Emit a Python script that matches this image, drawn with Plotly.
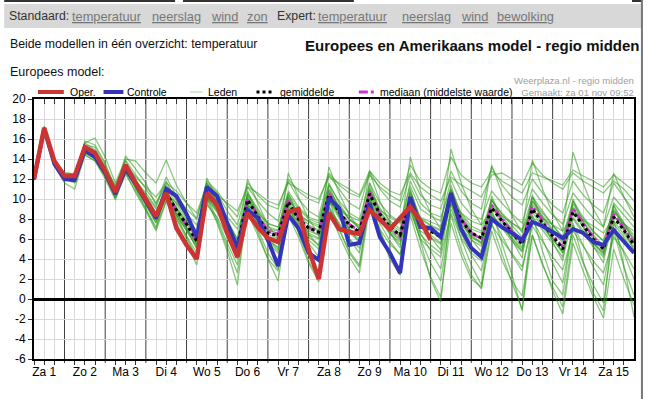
import pandas as pd
import plotly.graph_objects as go

# 6-hourly forecast steps starting Saturday 1 Nov 06:00
times = pd.date_range("2014-11-01 06:00", periods=60, freq="6h")

day_labels = ["Za 1", "Zo 2", "Ma 3", "Di 4", "Wo 5", "Do 6", "Vr 7", "Za 8",
              "Zo 9", "Ma 10", "Di 11", "Wo 12", "Do 13", "Vr 14", "Za 15"]
y_ticks = [-6, -4, -2, 0, 2, 4, 6, 8, 10, 12, 14, 16, 18, 20]

oper = [12.0, 17.1, 13.8, 12.3, 12.3, 15.2, 14.6, 12.8, 10.7, 13.4,
        11.6, 10.0, 8.3, 10.6, 7.1, 5.4, 4.0, 10.6, 9.4, 6.6,
        4.2, 8.6, 7.2, 6.1, 5.7, 8.7, 9.0, 5.0, 2.0, 8.6,
        7.0, 6.7, 6.5, 8.9, 7.9, 7.0, 8.1, 9.2, 7.8, 5.9]

controle = [12.0, 17.0, 13.5, 12.0, 11.9, 14.9, 14.2, 12.6, 10.5, 13.0,
            11.5, 9.8, 8.1, 11.0, 10.3, 8.5, 6.2, 11.2, 10.3, 7.6,
            5.1, 8.9, 8.1, 5.9, 3.3, 8.4, 7.1, 4.6, 3.9, 10.1,
            9.1, 5.4, 5.6, 9.6, 6.2, 4.6, 2.6, 10.2, 7.2, 7.1,
            6.2, 10.6, 7.0, 5.1, 4.2, 8.0, 7.2, 6.6, 5.9, 7.7,
            7.3, 6.7, 6.1, 7.0, 6.6, 5.7, 5.4, 6.9, 5.8, 4.6]

gemiddelde = [12.0, 17.0, 13.6, 12.1, 12.0, 14.9, 14.3, 12.6, 10.6, 13.1,
              11.5, 9.8, 8.1, 10.6, 8.9, 7.5, 5.8, 10.6, 9.3, 7.3,
              5.3, 9.9, 8.3, 6.6, 6.3, 9.7, 8.0, 7.1, 6.7, 10.4,
              8.7, 7.4, 6.7, 10.5, 8.5, 7.2, 6.4, 10.0, 7.4, 6.8,
              6.2, 10.2, 7.9, 6.6, 6.1, 9.1, 7.8, 6.6, 5.5, 9.0,
              7.6, 6.3, 5.0, 8.7, 7.3, 6.0, 5.0, 8.2, 6.9, 5.4]

mediaan = [12.0, 17.0, 13.6, 12.1, 12.0, 14.9, 14.3, 12.6, 10.6, 13.1,
           11.5, 9.8, 8.1, 10.6, 8.8, 7.4, 5.8, 10.7, 9.4, 7.3,
           5.2, 10.0, 8.4, 6.8, 6.5, 9.9, 8.1, 7.2, 6.6, 10.6,
           8.8, 7.5, 6.8, 10.7, 8.6, 7.1, 6.2, 10.2, 7.5, 6.9,
           6.3, 10.4, 8.0, 6.6, 6.0, 9.4, 8.0, 6.8, 5.6, 9.3,
           7.8, 6.4, 5.2, 9.1, 7.6, 6.2, 5.1, 8.5, 7.1, 5.6]

leden = [
    [12.1, 17.2, 13.8, 12.3, 12.2, 15.3, 14.6, 12.9, 10.9, 13.5, 11.9, 10.2, 8.6, 11.2, 9.5, 8.0, 6.4, 11.2, 9.8, 7.8,
     5.9, 10.5, 8.9, 7.2, 6.9, 10.3, 8.6, 7.7, 7.2, 11.0, 9.3, 8.0, 7.2, 11.2, 9.1, 7.8, 7.0, 10.8, 8.1, 7.4,
     6.9, 11.0, 8.6, 7.3, 6.8, 9.9, 8.5, 7.3, 6.2, 9.8, 8.3, 7.0, 5.8, 9.5, 8.0, 6.7, 5.8, 9.0, 7.6, 6.1],
    [11.9, 16.9, 13.5, 11.9, 11.8, 14.6, 14.0, 12.3, 10.2, 12.7, 11.1, 9.4, 7.6, 10.1, 8.3, 6.9, 5.1, 10.0, 8.7, 6.6,
     4.6, 9.3, 7.7, 6.0, 5.6, 9.0, 7.4, 6.4, 6.0, 9.8, 8.1, 6.8, 6.0, 9.9, 7.9, 6.5, 5.7, 9.4, 6.8, 6.1,
     5.5, 9.5, 7.2, 5.9, 5.3, 8.4, 7.1, 5.8, 4.7, 8.3, 6.9, 5.5, 4.2, 8.0, 6.6, 5.2, 4.2, 7.5, 6.2, 4.6],
    [12.0, 17.0, 13.7, 12.2, 12.1, 15.0, 14.5, 12.7, 10.5, 13.0, 11.6, 10.0, 8.3, 10.3, 8.6, 7.2, 5.5, 10.9, 9.6, 7.6,
     5.5, 10.4, 8.6, 6.5, 6.0, 9.4, 7.6, 6.8, 6.4, 10.9, 9.2, 7.9, 7.4, 10.1, 8.0, 6.7, 5.9, 10.6, 8.0, 7.3,
     6.8, 10.8, 8.4, 7.0, 6.6, 8.6, 7.2, 6.1, 5.0, 9.5, 8.1, 6.8, 5.6, 8.2, 6.8, 5.5, 4.4, 8.8, 7.4, 5.9],
    [12.0, 17.1, 13.6, 12.0, 12.0, 14.8, 14.2, 12.5, 10.6, 13.2, 11.4, 9.7, 8.0, 10.8, 9.2, 7.8, 6.2, 11.0, 9.8, 7.9,
     6.0, 10.6, 9.0, 7.5, 7.2, 10.5, 9.0, 8.0, 7.6, 11.4, 9.8, 8.6, 8.0, 11.6, 9.6, 8.4, 7.7, 11.3, 9.0, 8.3,
     7.8, 11.9, 9.6, 8.4, 8.0, 10.8, 9.6, 8.5, 7.6, 11.0, 9.6, 8.4, 7.5, 10.6, 9.3, 8.1, 7.2, 10.2, 9.0, 7.8],
    [12.0, 16.9, 13.6, 12.1, 11.9, 14.9, 14.1, 12.5, 10.7, 13.0, 11.3, 9.6, 7.9, 10.4, 8.5, 7.0, 5.4, 10.2, 8.8, 6.8,
     4.8, 9.4, 7.6, 5.8, 5.2, 8.9, 7.1, 5.9, 5.0, 9.3, 7.5, 6.0, 5.1, 9.2, 7.0, 5.5, 4.5, 8.8, 6.0, 5.0,
     4.2, 8.6, 6.1, 4.6, 3.8, 7.4, 5.9, 4.5, 3.2, 7.3, 5.7, 4.2, 2.9, 6.8, 5.3, 3.8, 2.6, 6.2, 4.8, 3.0],
    [11.9, 17.3, 13.9, 12.4, 12.3, 15.6, 14.9, 13.1, 10.8, 13.8, 12.0, 10.1, 7.8, 11.0, 9.0, 7.1, 5.0, 11.6, 9.6, 7.0,
     4.4, 10.8, 8.4, 6.2, 5.0, 10.6, 8.2, 6.5, 5.3, 11.4, 8.9, 7.0, 5.6, 11.6, 8.7, 6.6, 5.1, 11.0, 7.6, 6.2,
     4.9, 11.4, 8.1, 6.0, 4.7, 10.3, 7.9, 5.9, 4.1, 10.2, 7.7, 5.7, 3.8, 9.8, 7.4, 5.3, 3.6, 9.4, 7.0, 4.8],
    [12.1, 16.8, 13.5, 12.2, 12.2, 14.5, 14.2, 12.8, 11.0, 12.8, 11.7, 10.4, 9.0, 10.5, 9.6, 8.5, 7.4, 10.0, 9.4, 8.2,
     7.0, 9.4, 8.6, 7.6, 7.2, 9.0, 8.3, 7.8, 7.4, 9.6, 8.9, 8.3, 7.8, 9.8, 8.9, 8.2, 7.6, 9.4, 8.2, 7.7,
     7.3, 9.6, 8.6, 7.8, 7.4, 8.9, 8.3, 7.6, 7.0, 8.8, 8.1, 7.4, 6.8, 8.5, 7.9, 7.3, 6.6, 8.2, 7.5, 6.8],
    [12.0, 17.0, 13.4, 12.0, 11.7, 14.7, 14.6, 12.9, 10.4, 13.3, 11.2, 9.9, 8.4, 10.9, 9.0, 7.7, 6.0, 10.4, 9.1, 7.0,
     5.0, 10.1, 8.1, 6.9, 6.6, 10.1, 8.5, 7.4, 6.9, 10.0, 8.3, 7.0, 6.3, 10.9, 8.8, 7.5, 6.8, 10.3, 7.7, 7.0,
     6.4, 9.8, 7.5, 6.2, 5.7, 9.5, 8.2, 7.0, 5.8, 8.7, 7.2, 5.9, 4.8, 9.1, 7.7, 6.4, 5.3, 7.8, 6.5, 5.0],
    [12.0, 17.1, 13.8, 12.4, 12.4, 15.4, 15.2, 13.4, 11.2, 13.9, 12.4, 11.0, 9.6, 11.4, 10.2, 9.0, 8.0, 11.8, 10.8, 9.4,
     8.2, 11.6, 10.4, 9.4, 9.0, 12.0, 10.8, 10.0, 9.6, 12.6, 11.4, 10.6, 10.2, 12.4, 11.2, 10.4, 9.8, 13.4, 11.8, 11.0,
     10.6, 14.2, 12.4, 11.6, 11.2, 12.8, 11.8, 11.2, 10.6, 12.6, 12.2, 11.8, 11.4, 12.9, 12.3, 11.8, 11.2, 12.4, 11.6, 10.8],
    [12.0, 16.9, 13.5, 12.0, 11.6, 14.4, 13.8, 12.0, 9.9, 12.6, 10.6, 8.8, 6.8, 9.8, 7.6, 5.6, 3.4, 9.6, 7.8, 5.2,
     2.6, 8.6, 6.4, 4.0, 1.8, 8.4, 6.2, 3.6, 1.7, 8.8, 6.4, 4.2, 2.6, 9.2, 6.6, 4.0, 2.4, 8.4, 5.0, 2.2,
     0.2, 7.6, 4.4, 2.0, 1.2, 6.8, 3.9, 1.8, 0.3, 6.4, 3.6, 0.8, -1.5, 5.6, 2.8, 0.2, -1.9, 5.0, 2.0, -0.6],
    [12.0, 17.2, 13.7, 12.2, 12.0, 15.8, 15.4, 13.6, 10.9, 14.3, 13.0, 11.6, 9.4, 12.2, 10.3, 8.4, 6.4, 12.1, 10.0, 7.9,
     5.8, 12.0, 9.6, 7.4, 6.0, 12.6, 10.2, 8.0, 6.5, 13.2, 10.6, 8.4, 7.0, 12.7, 9.8, 7.6, 6.2, 14.2, 10.8, 8.6,
     7.0, 15.0, 11.6, 9.0, 7.4, 13.4, 10.6, 8.4, 6.6, 13.9, 11.0, 8.6, 6.8, 14.7, 11.6, 9.0, 7.2, 12.6, 10.2, 8.2],
    [12.0, 17.0, 13.6, 12.1, 12.0, 15.0, 14.4, 12.4, 10.1, 13.3, 11.0, 9.0, 7.0, 10.8, 8.4, 6.2, 4.2, 10.0, 7.6, 4.8,
     1.4, 9.4, 6.8, 4.0, 2.8, 9.8, 6.6, 3.8, 2.0, 10.0, 7.0, 4.6, 3.2, 10.2, 6.8, 4.4, 2.4, 9.4, 5.8, 2.0,
     -0.3, 9.6, 6.0, 3.4, 1.4, 9.0, 5.6, 2.4, -1.2, 8.4, 4.8, 1.8, 0.4, 7.6, 3.8, 0.6, -1.2, 8.0, 3.4, -1.8],
    [12.1, 17.0, 13.9, 12.6, 12.5, 15.1, 14.7, 13.0, 11.4, 13.4, 12.2, 11.2, 10.2, 11.6, 10.8, 9.6, 8.6, 11.4, 10.4, 9.6,
     8.8, 11.2, 10.6, 9.8, 9.4, 11.6, 11.0, 10.4, 10.0, 12.2, 11.6, 11.0, 10.4, 12.8, 11.6, 10.8, 10.4, 12.6, 11.2, 10.4,
     9.8, 12.2, 11.4, 10.8, 10.2, 12.4, 12.6, 12.0, 11.4, 13.6, 12.4, 11.6, 11.0, 12.6, 11.8, 11.2, 10.6, 11.8, 11.0, 9.8],
    [12.0, 17.1, 13.6, 12.0, 11.9, 14.8, 14.1, 12.4, 10.3, 13.0, 11.2, 9.4, 7.6, 10.6, 8.0, 6.0, 4.0, 10.2, 8.0, 5.6,
     3.4, 9.0, 7.0, 4.6, 3.0, 8.6, 6.8, 4.4, 2.6, 9.2, 7.0, 4.8, 3.4, 9.6, 7.0, 4.2, 2.8, 9.0, 6.0, 3.6,
     1.8, 8.4, 5.0, 2.4, 1.0, 7.6, 4.6, 1.6, -1.0, 6.4, 3.4, 1.2, -0.8, 6.4, 3.6, 1.4, -0.4, 6.8, 3.2, 0.4],
    [12.0, 17.0, 13.7, 12.1, 12.0, 15.1, 14.3, 12.8, 10.8, 13.4, 11.8, 10.6, 9.2, 11.8, 9.8, 8.2, 6.8, 11.4, 9.2, 7.0,
     5.2, 10.0, 8.4, 7.0, 6.8, 10.8, 9.2, 8.2, 7.8, 11.6, 9.6, 8.0, 7.0, 10.6, 8.2, 6.8, 6.6, 11.8, 9.6, 8.6,
     8.2, 11.0, 8.0, 6.4, 5.6, 9.8, 8.6, 7.6, 6.8, 10.2, 8.8, 7.4, 6.0, 9.2, 7.2, 5.6, 4.6, 9.6, 8.4, 7.2],
    [11.9, 17.0, 13.5, 12.0, 11.8, 14.7, 14.0, 12.4, 10.5, 12.9, 11.3, 9.5, 8.0, 10.2, 8.4, 6.8, 5.2, 10.3, 8.9, 6.9,
     4.6, 9.6, 7.9, 5.9, 4.8, 9.2, 7.6, 6.2, 5.4, 10.2, 8.3, 6.6, 5.8, 10.4, 8.1, 6.6, 5.4, 9.8, 6.4, 5.4,
     4.6, 10.0, 7.2, 5.2, 4.4, 9.4, 7.8, 6.6, 5.6, 9.8, 8.6, 7.4, 6.2, 9.8, 8.2, 6.8, 5.8, 8.8, 7.6, 6.4],
    [12.1, 17.1, 13.9, 12.6, 12.5, 15.6, 16.1, 14.2, 11.6, 14.0, 13.8, 12.6, 11.6, 13.9, 11.4, 9.6, 8.0, 11.6, 10.6, 8.8,
     7.4, 11.2, 9.8, 8.6, 7.8, 11.8, 10.0, 8.8, 8.2, 12.4, 11.0, 9.6, 9.0, 12.8, 11.0, 9.8, 9.2, 12.4, 10.4, 9.4,
     9.0, 12.8, 10.8, 9.6, 9.0, 13.2, 11.4, 10.2, 9.4, 12.0, 10.6, 9.4, 8.6, 11.8, 10.4, 9.4, 8.6, 11.6, 10.2, 8.8],
    [11.9, 16.8, 13.3, 11.6, 11.0, 14.4, 13.8, 12.2, 10.1, 12.5, 10.8, 9.0, 7.2, 9.8, 8.1, 6.4, 4.6, 9.4, 8.2, 6.2,
     4.0, 8.8, 7.4, 5.6, 4.6, 8.4, 7.0, 5.6, 4.2, 9.0, 7.6, 6.0, 4.6, 9.6, 7.6, 5.8, 4.4, 9.2, 6.6, 4.8,
     3.0, 9.0, 6.6, 4.4, 2.8, 8.2, 6.4, 4.4, 2.8, 8.0, 6.0, 3.6, 1.6, 7.4, 5.4, 3.2, 1.4, 7.0, 4.6, 2.0],
    [12.0, 17.0, 13.6, 12.1, 12.0, 14.9, 14.4, 12.6, 10.6, 13.2, 11.6, 9.9, 8.2, 10.7, 9.1, 7.6, 5.9, 10.8, 9.4, 7.4,
     5.4, 10.2, 8.4, 6.7, 6.3, 10.2, 8.2, 7.0, 6.4, 10.8, 8.8, 7.4, 6.6, 11.0, 8.8, 7.2, 6.2, 10.6, 7.8, 6.8,
     6.0, 10.8, 8.2, 6.8, 6.0, 10.0, 8.0, 6.4, 5.2, 10.4, 8.0, 6.2, 4.6, 10.0, 7.8, 6.0, 4.8, 9.4, 7.6, 5.8],
    [12.0, 17.0, 13.6, 12.1, 12.1, 14.8, 14.2, 12.5, 10.5, 13.0, 11.4, 9.7, 7.9, 10.5, 8.7, 7.1, 5.5, 10.6, 9.0, 6.9,
     4.9, 10.0, 8.0, 6.2, 5.8, 9.9, 7.8, 6.6, 6.1, 10.5, 8.4, 7.0, 6.3, 10.8, 8.4, 6.9, 6.0, 10.2, 7.2, 6.4,
     5.6, 10.4, 7.6, 6.2, 5.5, 9.3, 7.4, 6.0, 4.8, 9.2, 7.4, 6.0, 4.6, 8.8, 7.2, 5.6, 4.6, 8.4, 6.8, 5.2],
]

RED = "#cc3333"
BLUE = "#3333bb"
MAGENTA = "#cc33cc"
GREEN = "rgba(45,155,25,0.55)"
FONT = "Liberation Sans, Arial, sans-serif"


def px(x):
    return (x - 30) / 604.0


def py(y):
    return (359 - y) / 260.0


fig = go.Figure()

for m in leden:
    fig.add_trace(go.Scatter(x=times, y=m, mode="lines",
                             line=dict(color=GREEN, width=1.3),
                             hoverinfo="skip", showlegend=False))

fig.add_trace(go.Scatter(x=times, y=mediaan, mode="lines",
                         line=dict(color=MAGENTA, width=2.5, dash="dashdot"),
                         name="mediaan (middelste waarde)", showlegend=False))
fig.add_trace(go.Scatter(x=times, y=gemiddelde, mode="lines",
                         line=dict(color="black", width=3, dash="dot"),
                         name="gemiddelde", showlegend=False))
fig.add_trace(go.Scatter(x=times, y=controle, mode="lines",
                         line=dict(color=BLUE, width=4),
                         name="Controle", showlegend=False))
fig.add_trace(go.Scatter(x=times[:len(oper)], y=oper, mode="lines",
                         line=dict(color=RED, width=4.5),
                         name="Oper.", showlegend=False))
# carrier for the top tick marks
fig.add_trace(go.Scatter(x=times, y=gemiddelde, mode="markers", opacity=0,
                         xaxis="x2", hoverinfo="skip", showlegend=False))

# light 6-hourly grid (midnights get a dark day separator instead)
grid_vals = [t for t in times if t.hour != 0]
grid_text = []
for t in grid_vals:
    if t.hour == 12:
        grid_text.append(day_labels[(t.normalize() - times[0].normalize()).days])
    else:
        grid_text.append("")
midnights = [t for t in times[:-1] if t.hour == 0]

shapes = []
for t in midnights:
    shapes.append(dict(type="line", xref="x", yref="paper", x0=t, x1=t, y0=-4 / 260.0, y1=1,
                       line=dict(color="#404040", width=1), layer="between"))

# header band and page borders
shapes.append(dict(type="rect", xref="paper", yref="paper", x0=px(0), x1=px(641),
                   y0=py(28), y1=py(4), fillcolor="#d8d8d8", line=dict(width=0), layer="below"))
for a, b in [(0, 172), (180, 352), (632, 642)]:
    shapes.append(dict(type="line", xref="paper", yref="paper", x0=px(a), x1=px(b),
                       y0=py(1), y1=py(1), line=dict(color="#333333", width=2)))
shapes.append(dict(type="line", xref="paper", yref="paper", x0=px(642), x1=px(642),
                   y0=py(0), y1=py(399), line=dict(color="#777777", width=2)))

# legend samples
LY = py(92)
shapes.append(dict(type="line", xref="paper", yref="paper", x0=px(34), x1=px(60), y0=LY, y1=LY,
                   line=dict(color=RED, width=4)))
shapes.append(dict(type="line", xref="paper", yref="paper", x0=px(100), x1=px(120), y0=LY, y1=LY,
                   line=dict(color=BLUE, width=4)))
shapes.append(dict(type="line", xref="paper", yref="paper", x0=px(187), x1=px(200), y0=LY, y1=LY,
                   line=dict(color="#a8d4a0", width=1)))
shapes.append(dict(type="line", xref="paper", yref="paper", x0=px(254), x1=px(272), y0=LY, y1=LY,
                   line=dict(color="black", width=3, dash="dot")))
shapes.append(dict(type="line", xref="paper", yref="paper", x0=px(357), x1=px(373), y0=LY, y1=LY,
                   line=dict(color=MAGENTA, width=3, dash="dashdot")))

ann = []


def text(x, y, s, size, color="black", anchor="left", align="left"):
    ann.append(dict(xref="paper", yref="paper", x=px(x), y=py(y), text=s, showarrow=False,
                    xanchor=anchor, yanchor="middle", align=align,
                    font=dict(family=FONT, size=size, color=color)))


# header links
text(3, 16, "Standaard:", 12.3, "#333333")
for x, w in [(66, "temperatuur"), (147, "neerslag"), (206, "wind"), (242, "zon")]:
    text(x, 16, "<u>" + w + "</u>", 12.8, "#777777")
text(273, 16, "Expert:", 12.3, "#333333")
for x, w in [(314, "temperatuur"), (398, "neerslag"), (458, "wind"), (494, "bewolking")]:
    text(x, 16, "<u>" + w + "</u>", 12.8, "#777777")

text(4, 44, "Beide modellen in één overzicht: temperatuur", 12.3, "#111111")
text(642, 45, "<b>Europees en Amerikaans model - regio midden</b>", 15, "#111111", "right")
text(4, 72, "Europees model:", 12.5, "#111111")
text(636, 87, "Weerplaza.nl - regio midden<br>Gemaakt: za 01 nov 09:52", 9.6, "#a0a0a0",
     "right", "right")

# legend labels
text(64, 92, "Oper.", 10.5)
text(122, 92, "Controle", 10.5)
text(203, 92, "Leden", 10.5)
text(276, 92, "gemiddelde", 10.5)
text(376, 92, "mediaan (middelste waarde)", 10.5)

fig.update_layout(
    width=648, height=399,
    margin=dict(l=30, r=14, t=99, b=40),
    paper_bgcolor="white", plot_bgcolor="white",
    font=dict(family=FONT, size=12, color="black"),
    showlegend=False,
    shapes=shapes,
    annotations=ann,
    xaxis=dict(type="date", range=[times[0], times[-1]],
               tickmode="array", tickvals=grid_vals, ticktext=grid_text,
               ticks="outside", ticklen=4, tickcolor="#333333",
               showgrid=True, gridcolor="#d9d9d9", gridwidth=1,
               showline=True, linecolor="black", linewidth=2, mirror=True,
               tickfont=dict(size=12), ticklabelstandoff=-3,
               zeroline=False, fixedrange=True),
    xaxis2=dict(type="date", overlaying="x", side="top", matches="x",
                tickmode="array", tickvals=list(times), ticks="inside", ticklen=5,
                tickcolor="#333333", showticklabels=False, showgrid=False,
                showline=False, zeroline=False),
    yaxis=dict(range=[-6, 20], tickmode="array", tickvals=y_ticks,
               ticktext=[str(v) for v in y_ticks],
               ticks="outside", ticklen=4, tickcolor="#333333",
               showgrid=True, gridcolor="#d9d9d9", gridwidth=1,
               showline=True, linecolor="black", linewidth=2, mirror=True,
               zeroline=True, zerolinecolor="black", zerolinewidth=3,
               tickfont=dict(size=12)),
)

fig.write_html("out.html", config={"displayModeBar": False},
               post_script="document.body.style.margin='0';")
